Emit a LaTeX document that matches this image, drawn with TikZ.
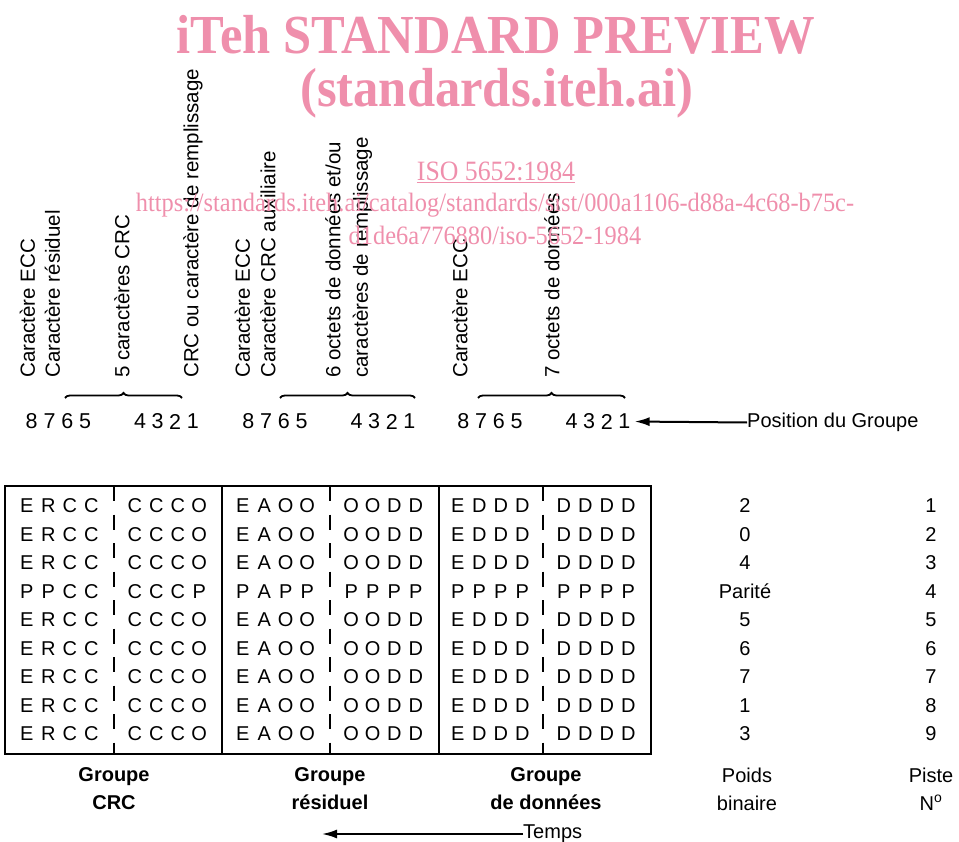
\documentclass[tikz,border=0pt]{standalone}
\usepackage{fontspec}
\setmainfont{Liberation Sans}
\newfontfamily\markfont{Liberation Serif}
\usetikzlibrary{arrows.meta}
\usetikzlibrary{decorations.pathreplacing}
\definecolor{markpink}{RGB}{239,143,172}

% spread the letters of one half group on a fixed pitch
\newcommand\spreadcells[1]{\spreadcellsi#1\relax}
\def\spreadcellsi#1{\ifx#1\relax\else\makebox[21.5pt]{#1}\expandafter\spreadcellsi\fi}

\def\datarow{ERCC/59,CCCO/167,EAOO/275,OODD/383.5,EDDD/490,DDDD/596}
\def\parityrow{PPCC/59,CCCP/167,PAPP/275,PPPP/383.5,PPPP/490,PPPP/596}

\begin{document}
\begin{tikzpicture}[x=1pt, y=-1pt,
    vlbl/.style={rotate=90, anchor=west, inner sep=0pt, font=\fontsize{20.5}{24}\selectfont},
    digit/.style={inner sep=0pt, font=\fontsize{21.5}{24}\selectfont},
    cell/.style={inner sep=0pt, font=\fontsize{20}{22}\selectfont},
    col/.style={inner sep=0pt, font=\fontsize{20}{24}\selectfont},
    grp/.style={inner sep=0pt, align=center, font=\fontsize{20}{28}\selectfont\bfseries},
    grpn/.style={inner sep=0pt, align=center, font=\fontsize{20}{28}\selectfont},
    brc/.style={decorate, decoration={brace, amplitude=5pt}, line width=1.8pt},
    arr/.style={-{Latex[length=15pt, width=9pt]}, line width=2pt},
    wmark/.style={text=markpink, inner sep=0pt, xscale=0.92}
]
\useasboundingbox (0,0) rectangle (959,842);

% labels above the groups
\node[vlbl] (eccA) at (27.5,378) {Caractère ECC};
\node[vlbl] (resA) at (52.5,378) {Caractère résiduel};
\node[vlbl] (crcA) at (122,378) {5 caractères CRC};
\node[vlbl] (fillA) at (193,378) {CRC ou caractère de remplissage};
\node[vlbl] (eccB) at (242.5,378) {Caractère ECC};
\node[vlbl] (auxB) at (268,378) {Caractère CRC auxiliaire};
\node[vlbl] (datB) at (333,378) {6 octets de données et/ou};
\node[vlbl] (fillB) at (362.5,378) {caractères de remplissage};
\node[vlbl] (eccC) at (460,378) {Caractère ECC};
\node[vlbl] (datC) at (552,378) {7 octets de données};

\draw[brc] (65,398) -- (182,398);
\draw[brc] (280,398) -- (415,398);
\draw[brc] (478,398) -- (625,398);

% position in the group
\foreach \g/\gx in {1/0,2/216.6,3/431.6}{
  \foreach \d [count=\i] in {8,7,6,5}
    \node[digit] (p\g-\d) at ({31.7+\gx+(\i-1)*17.8},421.5) {\d};
  \foreach \d [count=\i] in {4,3,2,1}
    \node[digit] (p\g-\d) at ({140+\gx+(\i-1)*17.6},421.5) {\d};
}
\node[col, anchor=west] (posgrp) at (747,422.5) {Position du Groupe};
\draw[arr, shorten >=4pt] (posgrp.west) -- (p3-1.east);

% the nine tracks
\draw[line width=2.8pt] (5,486) rectangle (651,754);
\draw[line width=1.6pt] (222,486) -- (222,754) (439,486) -- (439,754);
\draw[line width=1.4pt, dash pattern=on 15pt off 13.5pt]
  (114,486) -- (114,754) (330,486) -- (330,754) (543,486) -- (543,754);

\foreach \r in {1,...,9}{
  \ifnum\r=4 \let\rowcells\parityrow \else \let\rowcells\datarow \fi
  \foreach \cells/\hx [count=\h] in \rowcells
    \node[cell] (c\r-\h) at (\hx,{506+(\r-1)*28.5}) {\expandafter\spreadcells\expandafter{\cells}};
}
\foreach \w [count=\r] in {2,0,4,Parité,5,6,7,1,3}{
  \node[col] (w\r) at (745,{506+(\r-1)*28.5}) {\w};
  \node[col] (t\r) at (931,{506+(\r-1)*28.5}) {\r};
}

% captions
\node[grp] (gcrc) at (114,789) {Groupe\\CRC};
\node[grp] (gres) at (330,789) {Groupe\\résiduel};
\node[grp] (gdat) at (546,789) {Groupe\\de données};
\node[grpn] (gpoids) at (747,789) {Poids\\binaire};
\node[grpn] (gpiste) at (931,789) {Piste\\N\textsuperscript{o}};

\node[col, anchor=west] (temps) at (523,834) {Temps};
\coordinate (tempsend) at (322,834);
\draw[arr] (temps.west) -- (tempsend);

% watermark
\node[wmark, font=\markfont\fontsize{55}{55}\selectfont\bfseries] (wm1) at (496,35) {iTeh STANDARD PREVIEW};
\node[wmark, font=\markfont\fontsize{55}{55}\selectfont\bfseries] (wm2) at (497,93) {(standards.iteh.ai)};
\node[wmark, font=\markfont\fontsize{28}{28}\selectfont] (wm3) at (496,172) {\underline{ISO 5652:1984}};
\node[wmark, font=\markfont\fontsize{26.5}{28}\selectfont] (wm4) at (495,205) {https://standards.iteh.ai/catalog/standards/sist/000a1106-d88a-4c68-b75c-};
\node[wmark, font=\markfont\fontsize{26.5}{28}\selectfont] (wm5) at (495,235) {d1de6a776880/iso-5652-1984};
\end{tikzpicture}
\end{document}
